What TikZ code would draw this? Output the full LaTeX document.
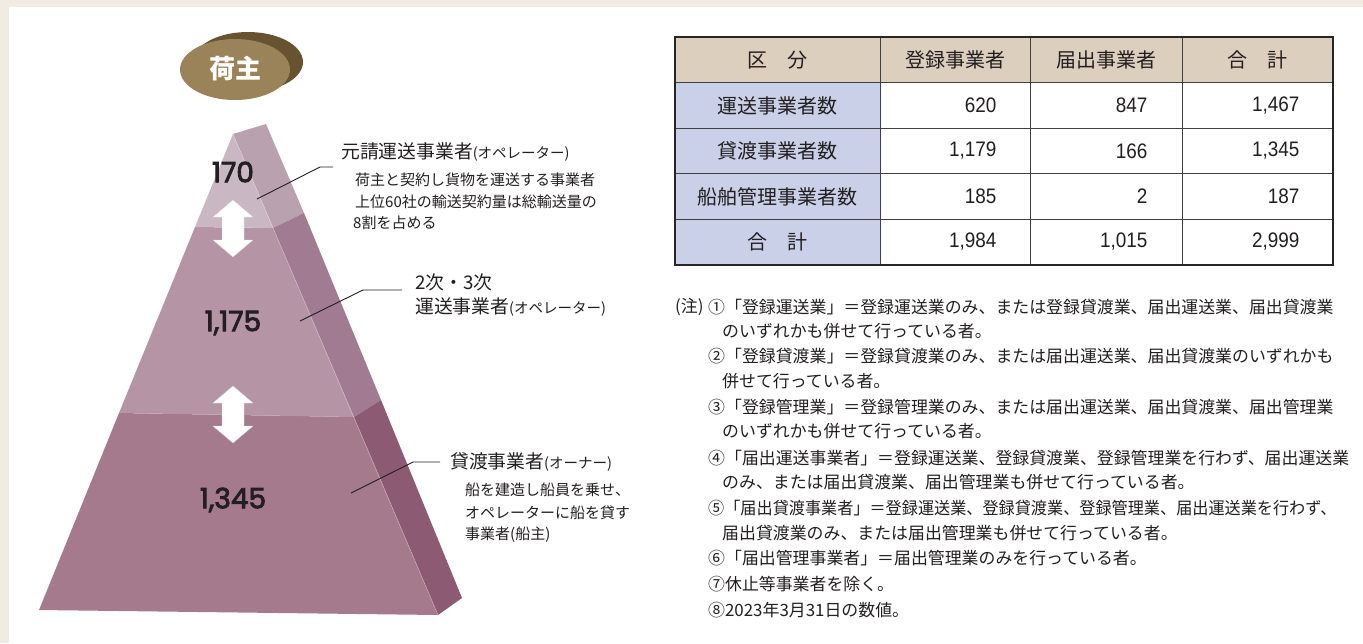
\documentclass[tikz,border=0pt]{standalone}
\usepackage{fontspec}
\usepackage{graphicx}
\setmainfont{Noto Sans CJK JP}
\newfontfamily\numf[FakeBold=3]{Poppins}
\newfontfamily\tnum[FakeStretch=0.9]{Liberation Sans}
\definecolor{bgbeige}{HTML}{F1ECE1}
\definecolor{ellfront}{HTML}{9A8358}
\definecolor{ellback}{HTML}{67532F}
\definecolor{ftop}{HTML}{C9B8C4}
\definecolor{fmid}{HTML}{B494A5}
\definecolor{fbot}{HTML}{A57A8D}
\definecolor{stop}{HTML}{B9A1AF}
\definecolor{smid}{HTML}{A07B91}
\definecolor{sbot}{HTML}{8D5A74}
\definecolor{thead}{HTML}{DCCFBE}
\definecolor{tlab}{HTML}{C9D0E8}
\definecolor{ink}{HTML}{231F20}
\tikzset{
  leader/.style={draw=ink, line width=0.9pt},
  pnum/.style={font=\numf\fontsize{28}{30}\selectfont, text=ink},
  lmain/.style={anchor=west, inner sep=0pt, font=\fontsize{18.8}{21}\selectfont, text=ink},
  lsub/.style={anchor=west, inner sep=0pt, font=\fontsize{15}{17}\selectfont, text=ink},
  note/.style={anchor=west, inner sep=0pt, font=\fontsize{16.9}{18}\selectfont, text=ink},
  thtext/.style={font=\fontsize{20}{22}\selectfont, text=ink},
  tnumtext/.style={anchor=east, font=\tnum\fontsize{21}{23}\selectfont, text=ink},
  darrow/.style={fill=white, draw=white!85!black, line width=0.3pt}
}
\newcommand{\smallp}[1]{{\fontsize{14.5}{16}\selectfont #1}}
\begin{document}
\begin{tikzpicture}[x=1pt,y=-1pt]
\useasboundingbox (0,0) rectangle (1363,643);
\fill[bgbeige] (0,0) rectangle (1363,643);
\fill[white] (9,7) rectangle (1363,643);

% shipper ellipse
\fill[ellback] (248,62) ellipse [x radius=55, y radius=30];
\fill[ellfront] (235,69.5) ellipse [x radius=55, y radius=30.5];
\node[text=white, font=\bfseries\fontsize{26}{28}\selectfont] (shipper) at (235,69) {荷主};

% pyramid front face (layers)
\fill[fbot] (119,413) -- (354,417) -- (438,615) -- (39,610) -- cycle;
\fill[fmid] (195,227) -- (273,228) -- (354,417) -- (119,413) -- cycle;
\fill[ftop] (233,134) -- (273,228) -- (195,227) -- cycle;
% pyramid side face (layers)
\fill[stop] (233,134) -- (266,124) -- (304,213) -- (273,228) -- cycle;
\fill[smid] (273,228) -- (304,213) -- (381,400) -- (354,417) -- cycle;
\fill[sbot] (354,417) -- (381,400) -- (462,598) -- (438,615) -- cycle;
\draw[white, opacity=0.35, line width=0.6pt] (233,134) -- (438,615);

% numbers
\node[pnum] (n170) at (233,172) {170};
\node[pnum] (n1175) at (233,323) {1,175};
\node[pnum] (n1345) at (233,500) {1,345};

% double arrows
\fill[darrow] (233,200) -- (253,217) -- (244,217) -- (244,240) -- (253,240) -- (233,257) -- (213,240) -- (222,240) -- (222,217) -- (213,217) -- cycle;
\fill[darrow] (233,386) -- (253,403) -- (244,403) -- (244,426) -- (253,426) -- (233,443) -- (213,426) -- (222,426) -- (222,403) -- (213,403) -- cycle;

% labels
\node[lmain] (lab1) at (341,152) {元請運送事業者\smallp{(オペレーター)}};
\node[lsub] (lab1a) at (355,180) {荷主と契約し貨物を運送する事業者};
\node[lsub] (lab1b) at (355,202) {上位60社の輸送契約量は総輸送量の};
\node[lsub] (lab1c) at (353,223) {8割を占める};
\node[lmain] (lab2a) at (415,282) {2次・3次};
\node[lmain] (lab2b) at (415,307) {運送事業者\smallp{(オペレーター)}};
\node[lmain] (lab3) at (450,462) {貸渡事業者\smallp{(オーナー)}};
\node[lsub] (lab3a) at (465,490) {船を建造し船員を乗せ、};
\node[lsub] (lab3b) at (465,513) {オペレーターに船を貸す};
\node[lsub] (lab3c) at (465,535) {事業者(船主)};

% leader lines
\coordinate (a1) at (257,199); \coordinate (b1) at (320,167); \coordinate (c1) at (333,167);
\coordinate (a2) at (300,321); \coordinate (b2) at (363,290); \coordinate (c2) at (402,290);
\coordinate (a3) at (351,493); \coordinate (b3) at (413,462); \coordinate (c3) at (440,462);
\draw[leader] (a1) -- (b1) -- (c1);
\draw[leader] (a2) -- (b2) -- (c2);
\draw[leader] (a3) -- (b3) -- (c3);

% table
\fill[thead] (675,37) rectangle (1333,82.6);
\fill[tlab] (675,82.6) rectangle (880,265);
\foreach \y in {82.6,128.2,173.8,219.4} \draw[black!75, line width=0.9pt] (675,\y) -- (1333,\y);
\foreach \x in {880,1030,1182} \draw[black!75, line width=0.9pt] (\x,37) -- (\x,265);
\draw[black!85, line width=1.6pt] (675,37) rectangle (1333,265);

\node[thtext] (h1) at (777.5,60) {区　分};
\node[thtext] (h2) at (955,60) {登録事業者};
\node[thtext] (h3) at (1106,60) {届出事業者};
\node[thtext] (h4) at (1257.5,60) {合　計};
\node[thtext] (r1) at (777.5,105.5) {運送事業者数};
\node[thtext] (r2) at (777.5,151) {貸渡事業者数};
\node[thtext] (r3) at (777.5,196.5) {船舶管理事業者数};
\node[thtext] (r4) at (777.5,242) {合　計};
\node[tnumtext] (v11) at (1000,105.5) {620};
\node[tnumtext] (v12) at (1151,105.5) {847};
\node[tnumtext] (v13) at (1303,105.5) {1,467};
\node[tnumtext] (v21) at (1000,151) {1,179};
\node[tnumtext] (v22) at (1151,151) {166};
\node[tnumtext] (v23) at (1303,151) {1,345};
\node[tnumtext] (v31) at (1000,196.5) {185};
\node[tnumtext] (v32) at (1151,196.5) {2};
\node[tnumtext] (v33) at (1303,196.5) {187};
\node[tnumtext] (v41) at (1000,242) {1,984};
\node[tnumtext] (v42) at (1151,242) {1,015};
\node[tnumtext] (v43) at (1303,242) {2,999};

% notes
\node[note] (n0) at (675,307) {(注)};
\node[note] (n1) at (708,307) {①「登録運送業」＝登録運送業のみ、または登録貸渡業、届出運送業、届出貸渡業};
\node[note] (n1b) at (722,331) {のいずれかも併せて行っている者。};
\node[note] (n2) at (708,356) {②「登録貸渡業」＝登録貸渡業のみ、または届出運送業、届出貸渡業のいずれかも};
\node[note] (n2b) at (722,381) {併せて行っている者。};
\node[note] (n3) at (708,407) {③「登録管理業」＝登録管理業のみ、または届出運送業、届出貸渡業、届出管理業};
\node[note] (n3b) at (722,431) {のいずれかも併せて行っている者。};
\node[note] (n4) at (708,458) {④「届出運送事業者」＝登録運送業、登録貸渡業、登録管理業を行わず、届出運送業};
\node[note] (n4b) at (722,482) {のみ、または届出貸渡業、届出管理業も併せて行っている者。};
\node[note] (n5) at (708,508) {\scalebox{0.955}[1]{⑤「届出貸渡事業者」＝登録運送業、登録貸渡業、登録管理業、届出運送業を行わず、}};
\node[note] (n5b) at (722,533) {届出貸渡業のみ、または届出管理業も併せて行っている者。};
\node[note] (n6) at (708,558) {⑥「届出管理事業者」＝届出管理業のみを行っている者。};
\node[note] (n7) at (708,584) {⑦休止等事業者を除く。};
\node[note] (n8) at (708,610) {⑧2023年3月31日の数値。};
\end{tikzpicture}
\end{document}
